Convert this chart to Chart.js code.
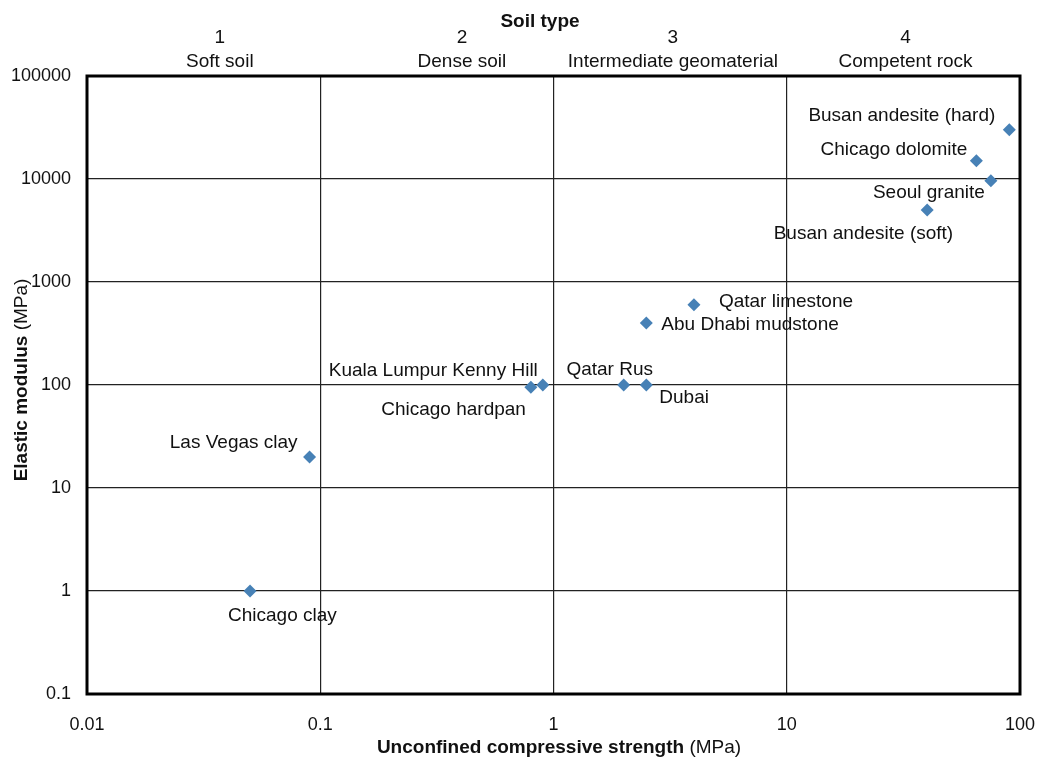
<!DOCTYPE html>
<html lang="en">

<head>
    <meta charset="UTF-8">
    <title>Elastic modulus vs unconfined compressive strength</title>
    <script src="https://cdn.jsdelivr.net/npm/chart.js"></script>
    <style>
        body {
            margin: 0;
            background: #fff;
        }

        #chart-container {
            width: 1038px;
            height: 757px;
        }
    </style>
</head>

<body>
    <div id="chart-container">
        <canvas id="modulusChart"></canvas>
    </div>

    <script>
        // site names and values (MPa)
        const sites = ['Busan andesite (hard)', 'Chicago dolomite', 'Seoul granite', 'Busan andesite (soft)',
            'Qatar limestone', 'Abu Dhabi mudstone', 'Qatar Rus', 'Dubai', 'Kuala Lumpur Kenny Hill',
            'Chicago hardpan', 'Las Vegas clay', 'Chicago clay'];
        const strength = [90, 65, 75, 40, 4, 2.5, 2, 2.5, 0.9, 0.8, 0.09, 0.05];
        const modulus = [30000, 15000, 9600, 5000, 600, 400, 100, 100, 100, 95, 20, 1];

        const xTicks = [0.01, 0.1, 1, 10, 100];
        const yTicks = [0.1, 1, 10, 100, 1000, 10000, 100000];

        const soilNums = ['1', '2', '3', '4'];
        const soilNames = ['Soft soil', 'Dense soil', 'Intermediate geomaterial', 'Competent rock'];
        const soilAt = [0.0371, 0.405, 3.25, 32.3]; // where each soil type label sits on the strength axis

        const FONT = '"Liberation Sans", Arial, Helvetica, sans-serif';
        const TEXT = '#111';
        const LABEL_SIZE = 19;

        // label offsets from each point, px (same order as sites)
        const labelPlace = [
            { dx: -14, dy: -14, align: 'right' },
            { dx: -9, dy: -11, align: 'right' },
            { dx: -6, dy: 12, align: 'right' },
            { dx: 26, dy: 24, align: 'right' },
            { dx: 25, dy: -3, align: 'left' },
            { dx: 15, dy: 2, align: 'left' },
            { dx: -14, dy: -15, align: 'center' },
            { dx: 13, dy: 13, align: 'left' },
            { dx: -5, dy: -14, align: 'right' },
            { dx: -5, dy: 22, align: 'right' },
            { dx: -12, dy: -14, align: 'right' },
            { dx: -22, dy: 25, align: 'left' }
        ];

        Chart.defaults.font.family = FONT;
        Chart.defaults.font.size = 18;
        Chart.defaults.color = TEXT;

        // mixed bold / normal text, centred on x
        function mixedText(ctx, parts, x, y) {
            let total = 0;
            parts.forEach(p => {
                ctx.font = (p.bold ? 'bold ' : '') + LABEL_SIZE + 'px ' + FONT;
                p.w = ctx.measureText(p.text).width;
                total += p.w;
            });
            let cx = x - total / 2;
            parts.forEach(p => {
                ctx.font = (p.bold ? 'bold ' : '') + LABEL_SIZE + 'px ' + FONT;
                ctx.fillText(p.text, cx, y);
                cx += p.w;
            });
        }

        const decorPlugin = {
            id: 'decor',
            beforeDatasetsDraw(chart) {
                const { ctx, chartArea: a } = chart;
                ctx.save();
                ctx.strokeStyle = '#000';
                ctx.lineWidth = 3;
                ctx.strokeRect(a.left, a.top, a.right - a.left, a.bottom - a.top);
                ctx.restore();
            },
            afterDatasetsDraw(chart) {
                const { ctx } = chart;
                const meta = chart.getDatasetMeta(0);
                ctx.save();
                ctx.fillStyle = TEXT;
                ctx.textBaseline = 'middle';
                ctx.font = LABEL_SIZE + 'px ' + FONT;
                meta.data.forEach((pt, i) => {
                    const p = labelPlace[i];
                    ctx.textAlign = p.align;
                    ctx.fillText(sites[i], pt.x + p.dx, pt.y + p.dy);
                });

                // axis titles
                ctx.textAlign = 'left';
                mixedText(ctx, [{ text: 'Soil type', bold: true }], 540, 22);
                mixedText(ctx, [{ text: 'Unconfined compressive strength', bold: true }, { text: ' (MPa)' }], 559, 748);
                ctx.translate(22, 380);
                ctx.rotate(-Math.PI / 2);
                mixedText(ctx, [{ text: 'Elastic modulus', bold: true }, { text: ' (MPa)' }], 0, 0);
                ctx.restore();
            }
        };

        const gridStyle = { color: '#222', lineWidth: 1.2, drawTicks: false };

        new Chart(document.getElementById('modulusChart'), {
            type: 'scatter',
            data: {
                datasets: [{
                    data: strength.map((s, i) => ({ x: s, y: modulus[i] })),
                    pointStyle: 'rectRot',
                    pointRadius: 6.5,
                    backgroundColor: '#4781b6',
                    borderColor: '#4781b6',
                    borderWidth: 0
                }]
            },
            options: {
                responsive: true,
                maintainAspectRatio: false,
                animation: false,
                layout: { padding: { left: 0, right: 18, top: 0, bottom: 0 } },
                plugins: { legend: { display: false }, tooltip: { enabled: false } },
                scales: {
                    x: {
                        type: 'logarithmic',
                        position: 'bottom',
                        min: 0.01,
                        max: 100,
                        grid: gridStyle,
                        border: { display: false },
                        ticks: { padding: 20, maxRotation: 0, callback: v => String(v) },
                        afterBuildTicks: s => { s.ticks = xTicks.map(v => ({ value: v })); },
                        afterFit: s => { s.height = 63; s.paddingLeft = 0; s.paddingRight = 0; }
                    },
                    xTop: {
                        type: 'logarithmic',
                        position: 'top',
                        min: 0.01,
                        max: 100,
                        grid: { display: false, drawTicks: false },
                        border: { display: false },
                        ticks: {
                            padding: 3,
                            maxRotation: 0,
                            font: { size: LABEL_SIZE, lineHeight: 1.22 },
                            callback: (v, i) => [soilNums[i], soilNames[i]]
                        },
                        afterBuildTicks: s => { s.ticks = soilAt.map(v => ({ value: v })); },
                        afterFit: s => { s.height = 76; s.paddingLeft = 0; s.paddingRight = 0; }
                    },
                    y: {
                        type: 'logarithmic',
                        min: 0.1,
                        max: 100000,
                        grid: gridStyle,
                        border: { display: false },
                        ticks: { padding: 16, callback: v => String(v) },
                        afterBuildTicks: s => { s.ticks = yTicks.map(v => ({ value: v })); },
                        afterFit: s => { s.width = 87; s.paddingTop = 0; s.paddingBottom = 0; }
                    }
                }
            },
            plugins: [decorPlugin]
        });
    </script>
</body>

</html>
